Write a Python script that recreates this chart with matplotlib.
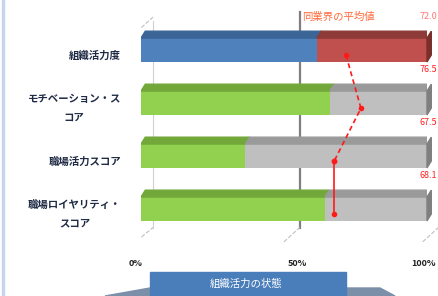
import numpy as np
import matplotlib.pyplot as plt
from matplotlib.patches import Polygon, Rectangle

plt.rcParams['font.family'] = ['Noto Sans CJK JP', 'DejaVu Sans']

# data
labels = ['組織活力度', 'モチベーション・ス\nコア', '職場活力スコア', '職場ロイヤリティ・\nスコア']
scores = [61.5, 66.0, 36.5, 64.3]
industry_avg = [71.7, 76.9, 67.5, 67.5]
avg_labels = ['72.0', '76.5', '67.5', '68.1']
xticks = [0, 50, 100]
xticklabels = ['0%', '50%', '100%']

front_cols = ['#4F81BD', '#92D050', '#92D050', '#92D050']
top_cols = ['#3A6596', '#72A83A', '#72A83A', '#72A83A']
rest_col, rest_top, rest_side = '#BFBFBF', '#9A9A9A', '#7F7F7F'
red_col, red_top, red_side = '#C0504D', '#8E3A38', '#7A2F2D'

W, H = 438, 296
fig = plt.figure(figsize=(W / 100, H / 100), dpi=100)
ax = fig.add_axes([141 / W, 1 - 245 / H, 286 / W, 235 / H])
ax.set_xlim(0, 100)
ax.set_ylim(3.68, -0.755)
ax.axis('off')

bh = 0.45
dx, dy = 1.5, 0.13  # fake 3d depth

# back wall gridline at 50%
ax.plot([55.5, 55.5], [-0.72, 3.35], color='#7F7F7F', lw=1.6, zorder=1)
ax.plot([4.2, 4.2], [-0.55, 3.35], color='#D0D0D0', lw=0.8, zorder=1)
ax.plot([-1.4, -1.4], [-0.35, 3.6], color='#C8C8C8', lw=0.8, zorder=1)
for yy in [0.5, 1.5, 2.5]:
    ax.plot([-2.2, -1.4], [yy, yy], color='#B0B0B0', lw=0.8, zorder=1)
# perspective lines
ax.plot([-1.4, 4.2], [-0.35, -0.62], color='#C0C0C0', lw=0.8, ls='--', zorder=1)
ax.plot([-1.4, 4.2], [3.6, 3.35], color='#C0C0C0', lw=0.8, ls='--', zorder=1)
ax.plot([50.0, 55.5], [3.62, 3.35], color='#C0C0C0', lw=0.8, ls='--', zorder=1)
ax.plot([98.5, 104], [3.62, 3.35], color='#C0C0C0', lw=0.8, ls='--', zorder=1, clip_on=False)

for i, v in enumerate(scores):
    rc = red_col if i == 0 else rest_col
    rt = red_top if i == 0 else rest_top
    rs = red_side if i == 0 else rest_side
    y0 = i - bh / 2
    y1 = i + bh / 2
    ax.barh(i, v, height=bh, color=front_cols[i], zorder=3)
    ax.barh(i, 100 - v, left=v, height=bh, color=rc, zorder=3)
    ax.add_patch(Polygon([(0, y0), (dx, y0 - dy), (v + dx, y0 - dy), (v, y0)],
                         closed=True, color=top_cols[i], zorder=3))
    ax.add_patch(Polygon([(v, y0), (v + dx, y0 - dy), (100 + dx, y0 - dy), (100, y0)],
                         closed=True, color=rt, zorder=3))
    ax.add_patch(Polygon([(100, y0), (100 + dx, y0 - dy), (100 + dx, y1 - dy), (100, y1)],
                         closed=True, color=rs, zorder=3, clip_on=False))
    ax.text(-7, i + 0.1, labels[i], ha='right', va='center', multialignment='center',
            fontsize=7.5, fontweight='bold', color='#1F2A44', linespacing=2.0)
    ax.text(103.5, i - 0.63, avg_labels[i], ha='right', va='center', fontsize=6.5,
            color='#FF2020', clip_on=False, alpha=0.6 if i == 0 else 1)

ys = np.arange(len(industry_avg)) + 0.1
ax.plot(industry_avg[:3], ys[:3], color='#FF1A1A', lw=1.2, ls=(0, (3, 2)), marker='o', ms=3, zorder=5)
ax.plot(industry_avg[2:], ys[2:], color='#FF1A1A', lw=1.2, marker='o', ms=3, zorder=5)

ax.text(56.5, -0.62, '同業界の平均値', ha='left', va='center', fontsize=7.5,
        color='#FF6A3A', zorder=6)

tick_px = [136, 297, 424]
for px, tl in zip(tick_px, xticklabels):
    fig.text(px / W, 1 - 263 / H, tl, ha='center', va='center',
             fontsize=6.5, fontweight='bold', color='#222222')

# banner at bottom
fig.patches.append(Polygon([(105 / W, 0), (150 / W, 8 / H), (380 / W, 8 / H), (395 / W, 0)],
                           closed=True, transform=fig.transFigure, color='#7B8FA8', zorder=1))
fig.patches.append(Rectangle((150 / W, 0), 196 / W, 24 / H, transform=fig.transFigure,
                             color='#4A7EBB', zorder=2))
fig.text(246 / W, 12 / H, '組織活力の状態', ha='center', va='center', fontsize=7.5,
         color='white', zorder=3)

# light border at left
fig.patches.append(Rectangle((2 / W, 0), 2 / W, 1, transform=fig.transFigure,
                             color='#C5D5EA', zorder=1))

fig.savefig('out.png', dpi=100)
